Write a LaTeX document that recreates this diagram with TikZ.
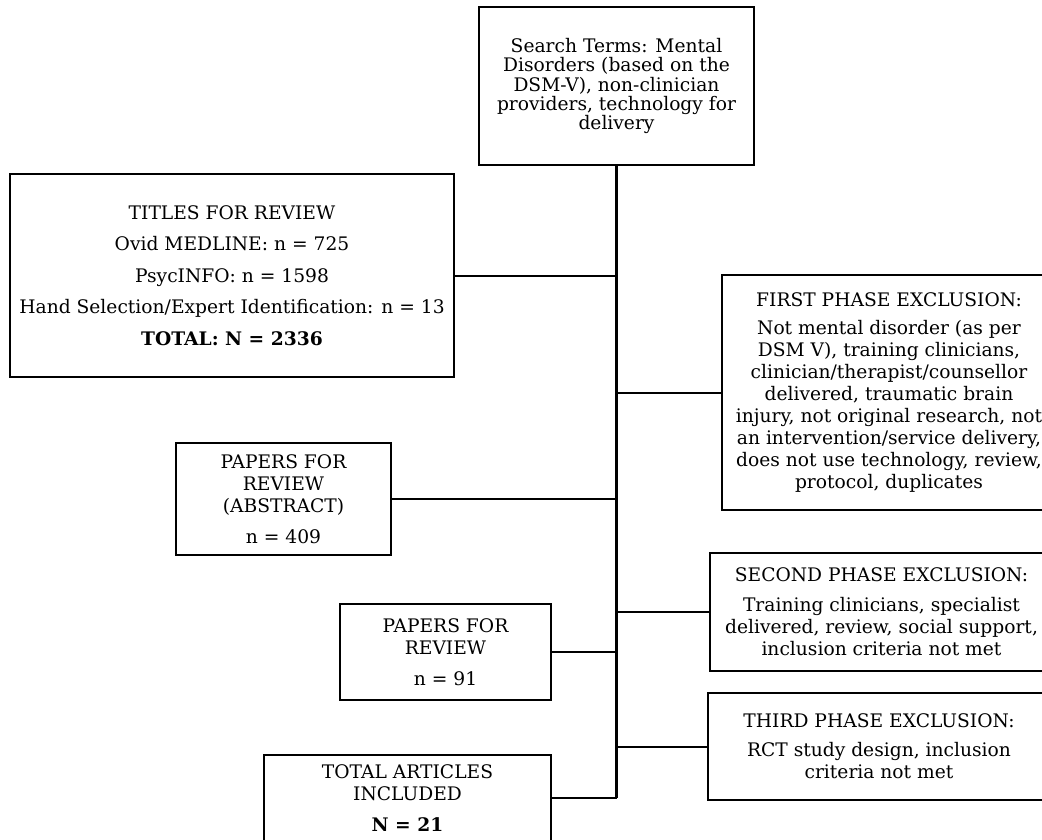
\documentclass[tikz,border=0pt]{standalone}
\usepackage{fontspec}
\setmainfont{DejaVu Serif}
\usepackage{tikz}
\usetikzlibrary{positioning,calc}

\begin{document}
\begin{tikzpicture}[x=0.75pt,y=-0.75pt,
    box/.style={draw,line width=1.5pt,align=center,inner sep=2pt,
      font=\fontsize{14}{16.5}\selectfont},
    link/.style={line width=1.5pt},
    trunk/.style={line width=2.25pt}]
      \useasboundingbox (0,0) rectangle (1042,839);

      \node[box,minimum width=206.25pt,minimum height=118.5pt,
        font=\fontsize{14}{14.6}\selectfont] (search) at (616.5,86)
        {Search Terms: Mental\\Disorders (based on the\\DSM-V), non-clinician\\providers, technology for\\delivery};
      \node[box,minimum width=333pt,minimum height=152.25pt] (titles) at (232,275.5)
        {TITLES FOR REVIEW\\[7.2pt]Ovid MEDLINE: n = 725\\[7.2pt]PsycINFO: n = 1598\\[7.2pt]Hand Selection/Expert Identification: n = 13\\[7.2pt]\textbf{TOTAL: N = 2336}};
      \node[box,minimum width=250.5pt,minimum height=176.25pt] (first) at (889,392.5)
        {FIRST PHASE EXCLUSION:\\[5pt]Not mental disorder (as per\\DSM V), training clinicians,\\clinician/therapist/counsellor\\delivered, traumatic brain\\injury, not original research, not\\an intervention/service delivery,\\does not use technology, review,\\protocol, duplicates};
      \node[box,minimum width=161.25pt,minimum height=84pt] (abstract) at (283.5,499)
        {PAPERS FOR\\REVIEW\\(ABSTRACT)\\[7pt]n = 409};
      \node[box,minimum width=257.25pt,minimum height=88.5pt] (second) at (881.5,612)
        {SECOND PHASE EXCLUSION:\\[6pt]Training clinicians, specialist\\delivered, review, social support,\\inclusion criteria not met};
      \node[box,minimum width=158.25pt,minimum height=72pt] (papers) at (445.5,652)
        {PAPERS FOR\\REVIEW\\[7pt]n = 91};
      \node[box,minimum width=256.5pt,minimum height=80.25pt] (third) at (879,746.5)
        {THIRD PHASE EXCLUSION:\\[5pt]RCT study design, inclusion\\criteria not met};
      \node[box,minimum width=215.25pt,minimum height=64.5pt] (total) at (407.5,798)
        {TOTAL ARTICLES\\INCLUDED\\[7pt]\textbf{N = 21}};

      \coordinate (top) at (search.south);
      \draw[trunk] (top) -- (total -| top);
      \draw[link] (titles) -- (titles -| top);
      \draw[link] (first) -- (first -| top);
      \draw[link] (abstract) -- (abstract -| top);
      \draw[link] (second) -- (second -| top);
      \draw[link] (papers) -- (papers -| top);
      \draw[link] (third) -- (third -| top);
      \draw[link] (total) -- (total -| top);
\end{tikzpicture}
\end{document}
